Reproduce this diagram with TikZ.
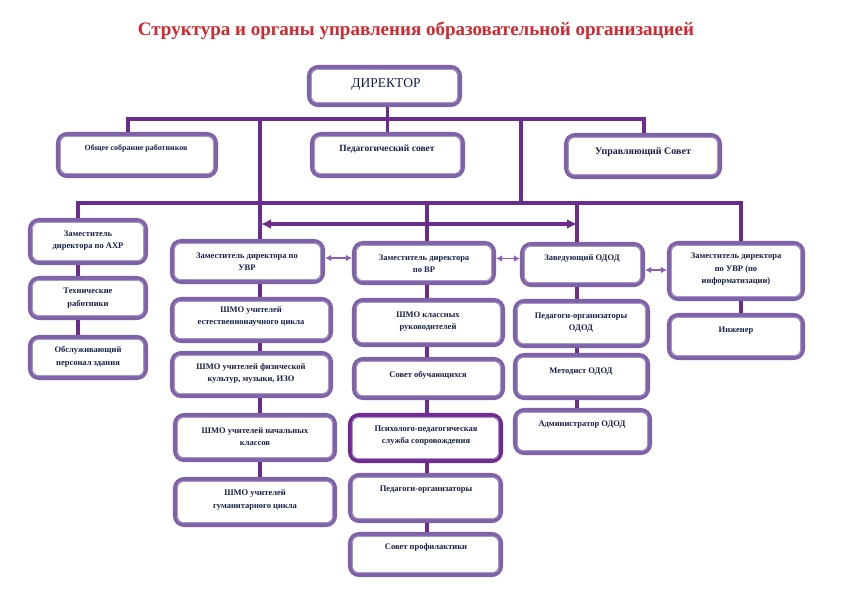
\documentclass[tikz,border=0pt]{standalone}
\usepackage{fontspec}
\setmainfont{Liberation Serif}
\usetikzlibrary{fit,arrows.meta}
\definecolor{connc}{RGB}{106,45,142}
\definecolor{boxc}{RGB}{127,99,168}
\definecolor{psyc}{RGB}{112,42,146}
\definecolor{inl}{RGB}{165,152,198}
\definecolor{txt}{RGB}{22,32,72}
\definecolor{ttl}{RGB}{212,40,46}
\definecolor{arrc}{RGB}{140,92,190}
\tikzset{
  obox/.style={draw=boxc, line width=4.5pt, rounded corners=9pt, fill=white, inner sep=0pt},
  ibox/.style={draw=inl, line width=1pt, rounded corners=5pt},
  lab/.style={text=txt, font=\bfseries\fontsize{8.5}{12.5}\selectfont, align=center, inner sep=0pt},
  conn/.style={draw=connc, line width=3.1pt},
  bigarr/.style={draw=connc, line width=3.1pt, {Latex[length=10pt,width=10pt]}-{Latex[length=10pt,width=10pt]}},
  sarr/.style={draw=arrc, line width=1.5pt, {Latex[length=6pt,width=6.5pt]}-{Latex[length=6pt,width=6.5pt]}}
}
% #1 colour, #2 name, #3..#6 outer extents x1,y1,x2,y2
\newcommand\obx[6][boxc]{%
  \node[obox, draw=#1, fit={(#3+2.2,#4+2.2) (#5-2.2,#6-2.2)}] (#2) {};
  \draw[ibox] ([shift={(4.5,4.5)}]#2.north west) rectangle ([shift={(-4.5,-4.5)}]#2.south east);
}
\begin{document}
\begin{tikzpicture}[x=1pt,y=-1pt]
\fill[white] (0,0) rectangle (845,614);
\useasboundingbox (0,0) rectangle (845,614);

\node[text=ttl, font=\bfseries\fontsize{19}{22}\selectfont, inner sep=0pt] (title) at (416,31) {Структура и органы управления образовательной организацией};

% boxes
\obx{dir}{307}{65}{462}{107}
\obx{obsh}{56}{132}{218}{178}
\obx{ped}{310}{132}{465}{178}
\obx{upr}{564}{133}{722}{179}
\obx{ahr}{28}{218}{148}{265}
\obx{tech}{28}{276}{148}{320}
\obx{obsl}{28}{335}{148}{380}
\obx{uvr}{170}{239}{325}{284}
\obx{sh1}{170}{297}{333}{343}
\obx{sh2}{170}{351}{333}{398}
\obx{sh3}{173}{413}{337}{462}
\obx{sh4}{173}{477}{337}{527}
\obx{vr}{352}{241}{496}{285}
\obx{klr}{352}{298}{505}{347}
\obx{sob}{352}{357}{505}{400}
\obx[psyc]{psy}{348}{413}{503}{463}
\obx{porg}{348}{473}{503}{523}
\obx{sprof}{348}{532}{503}{577}
\obx{odod}{520}{242}{645}{287}
\obx{porgo}{513}{299}{650}{348}
\obx{met}{513}{353}{650}{400}
\obx{adm}{513}{408}{652}{455}
\obx{info}{667}{241}{805}{301}
\obx{ing}{667}{313}{805}{360}

% texts
\node[text=txt, font=\fontsize{13.5}{15}\selectfont, inner sep=0pt] (tdir) at (386,84) {ДИРЕКТОР};
\node[lab, font=\bfseries\fontsize{8}{12}\selectfont] (tobsh) at (136,148) {Общее собрание работников};
\node[lab, font=\bfseries\fontsize{9.5}{12}\selectfont] (tped) at (387,149) {Педагогический совет};
\node[lab, font=\bfseries\fontsize{10}{12}\selectfont] (tupr) at (643,152) {Управляющий Совет};
\node[lab] (tahr) at (88,240.5) {Заместитель\\директора по АХР};
\node[lab] (ttech) at (88,298) {Технические\\работники};
\node[lab] (tobsl) at (88,357) {Обслуживающий\\персонал здания};
\node[lab] (tuvr) at (247,261.5) {Заместитель директора по\\УВР};
\node[lab] (tsh1) at (251,316.5) {ШМО учителей\\естественнонаучного цикла};
\node[lab] (tsh2) at (251,373.5) {ШМО учителей физической\\культур, музыки, ИЗО};
\node[lab] (tsh3) at (255,436.5) {ШМО учителей начальных\\классов};
\node[lab] (tsh4) at (255,500) {ШМО учителей\\гуманитарного цикла};
\node[lab] (tvr) at (424,263.5) {Заместитель директора\\по ВР};
\node[lab] (tklr) at (428,321.5) {ШМО классных\\руководителей};
\node[lab] (tsob) at (428,375) {Совет обучающихся};
\node[lab] (tpsy) at (426,435.5) {Психолого-педагогическая\\служба сопровождения};
\node[lab] (tporg) at (426,490) {Педагоги-организаторы};
\node[lab] (tsprof) at (426,547) {Совет профилактики};
\node[lab] (todod) at (582,258) {Заведующий ОДОД};
\node[lab] (tporgo) at (581,322.5) {Педагоги-организаторы\\ОДОД};
\node[lab] (tmet) at (581,372) {Методист ОДОД};
\node[lab] (tadm) at (582,425) {Администратор ОДОД};
\node[lab] (tinfo) at (736,269.5) {Заместитель директора\\по УВР (по\\информатизации)};
\node[lab] (ting) at (736,331) {Инженер};

% junction coordinates
\coordinate (j1) at (128,119);
\coordinate (j2) at (644,119);
\coordinate (j3) at (260,119);
\coordinate (j4) at (521,119);
\coordinate (j5) at (521,203);
\coordinate (k1) at (78,203);
\coordinate (k2) at (741,203);
\coordinate (k3) at (427,203);
\coordinate (k4) at (577,203);
\coordinate (a1) at (261,224);
\coordinate (a2) at (577,224);

% connectors
\draw[conn] (ped.north |- dir.south) -- (ped.north);
\draw[conn] (obsh.north -| j1) -- (j1) -- (j2) -- (upr.north -| j2);
\draw[conn] (j3) -- (uvr.north -| j3);
\draw[conn] (j4) -- (j5);
\draw[conn] (ahr.north -| k1) -- (k1) -- (k2) -- (info.north -| k2);
\draw[conn] (k3) -- (vr.north -| k3);
\draw[conn] (k4) -- (odod.north -| k4);
\draw[bigarr] (a1) -- (a2);

\draw[sarr] ([yshift=5pt]vr.west -| uvr.east) -- ([yshift=5pt]vr.west);
\draw[sarr] ([yshift=6pt]odod.west -| vr.east) -- ([yshift=6pt]odod.west);
\draw[sarr] ([yshift=1pt]info.west -| odod.east) -- ([yshift=1pt]info.west);

\draw[conn] (ahr.south -| k1) -- (tech.north -| k1);
\draw[conn] (tech.south -| k1) -- (obsl.north -| k1);
\draw[conn] (uvr.south -| j3) -- (sh1.north -| j3);
\draw[conn] (sh1.south -| j3) -- (sh2.north -| j3);
\draw[conn] (sh2.south -| j3) -- (sh3.north -| j3);
\draw[conn] (sh3.south -| j3) -- (sh4.north -| j3);
\draw[conn] (vr.south -| k3) -- (klr.north -| k3);
\draw[conn] (klr.south -| k3) -- (sob.north -| k3);
\draw[conn] (sob.south -| k3) -- (psy.north -| k3);
\draw[conn] (psy.south -| k3) -- (porg.north -| k3);
\draw[conn] (porg.south -| k3) -- (sprof.north -| k3);
\draw[conn] (odod.south -| k4) -- (porgo.north -| k4);
\draw[conn] (porgo.south -| k4) -- (met.north -| k4);
\draw[conn] (met.south -| k4) -- (adm.north -| k4);
\draw[conn] (info.south -| k2) -- (ing.north -| k2);
\end{tikzpicture}
\end{document}
